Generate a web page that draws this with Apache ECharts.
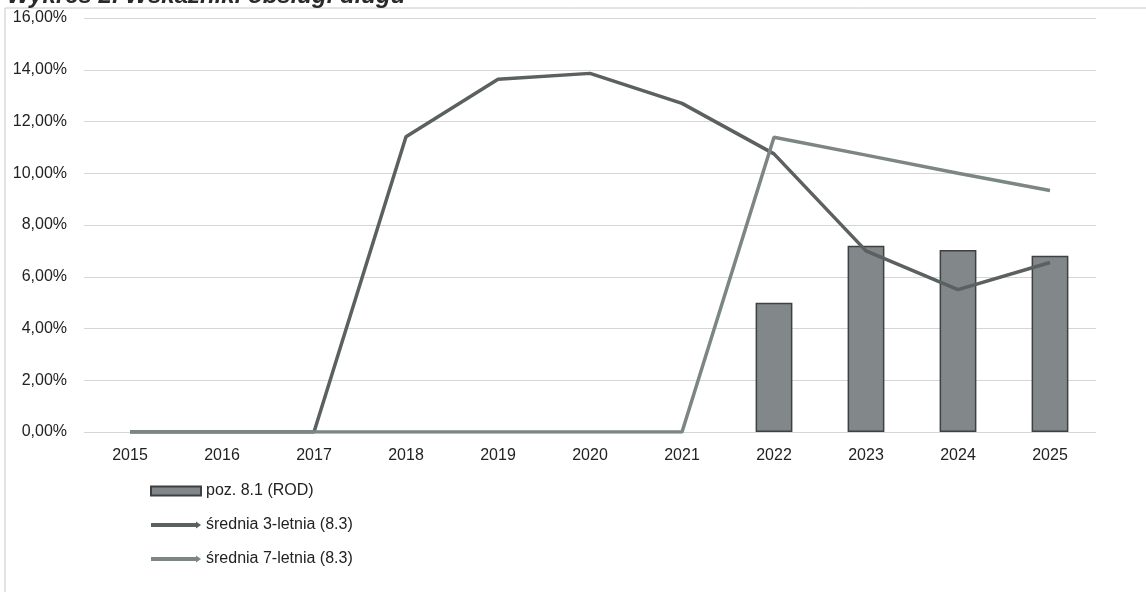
<!DOCTYPE html>
<html>
<head>
<meta charset="utf-8">
<script src="https://cdn.jsdelivr.net/npm/echarts@6/dist/echarts.min.js"></script>
<style>
html,body{margin:0;padding:0;background:#fff;}
#chart{width:1146px;height:592px;}
</style>
</head>
<body>
<div id="chart"></div>
<script>
var categories = ['2015','2016','2017','2018','2019','2020','2021','2022','2023','2024','2025'];
var barRod = [null, null, null, null, null, null, null, 5.0, 7.2, 7.03, 6.81];
var avg3 = [0, 0, 0, 11.41, 13.63, 13.86, 12.70, 10.75, 7.0, 5.5, 6.55];
var avg7 = [0, 0, 0, 0, 0, 0, 0, 11.39, 10.7, 10.0, 9.33];
var seriesNames = ['poz. 8.1 (ROD)', 'średnia 3-letnia (8.3)', 'średnia 7-letnia (8.3)'];
var titleText = 'Wykres 2. Wskaźniki obsługi długu';

var chart = echarts.init(document.getElementById('chart'));
var sans = '"Liberation Sans", Arial, sans-serif';
var arrowIcon = 'path://M0,2.6L45,2.6L45,1L50,4.5L45,8L45,6.4L0,6.4Z';
chart.setOption({
  backgroundColor: '#ffffff',
  animation: false,
  title: {
    text: titleText,
    left: 2,
    top: -21,
    textStyle: {fontFamily: sans, fontSize: 24, fontWeight: 'bold', fontStyle: 'italic', color: '#2a2a2a'}
  },
  graphic: [
    {type: 'line', shape: {x1: 5, y1: 8, x2: 1146, y2: 8}, style: {stroke: '#c8c8c8', lineWidth: 1}, z: -1},
    {type: 'line', shape: {x1: 5, y1: 8, x2: 5, y2: 592}, style: {stroke: '#c8c8c8', lineWidth: 1}, z: -1}
  ],
  grid: {left: 84, right: 50, top: 18, bottom: 160, containLabel: false},
  legend: {
    orient: 'vertical',
    left: 145,
    top: 478,
    itemGap: 18,
    itemWidth: 50,
    itemHeight: 9,
    textStyle: {fontFamily: sans, fontSize: 16, color: '#222'},
    data: [
      {name: seriesNames[0], icon: 'rect'},
      {name: seriesNames[1], icon: arrowIcon},
      {name: seriesNames[2], icon: arrowIcon}
    ]
  },
  xAxis: {
    type: 'category',
    data: categories,
    axisLine: {show: false},
    axisTick: {show: false},
    axisLabel: {fontFamily: sans, fontSize: 16, color: '#222', margin: 16}
  },
  yAxis: {
    type: 'value',
    min: 0,
    max: 16,
    interval: 2,
    axisLine: {show: false},
    axisTick: {show: false},
    axisLabel: {
      fontFamily: sans,
      fontSize: 16,
      color: '#222',
      margin: 17,
      formatter: function (v) { return v.toFixed(2).replace('.', ',') + '%'; }
    },
    splitLine: {lineStyle: {color: '#d6d6d6', width: 1}}
  },
  series: [
    {
      name: seriesNames[0],
      type: 'bar',
      data: barRod,
      barWidth: '40%',
      itemStyle: {color: '#82878a', borderColor: '#3e4142', borderWidth: 1.5}
    },
    {
      name: seriesNames[1],
      type: 'line',
      data: avg3,
      symbol: 'none',
      lineStyle: {color: '#5b6061', width: 3.5},
      itemStyle: {color: '#5b6061'},
      z: 3
    },
    {
      name: seriesNames[2],
      type: 'line',
      data: avg7,
      symbol: 'none',
      lineStyle: {color: '#7c8685', width: 3.5},
      itemStyle: {color: '#7c8685'},
      z: 4
    }
  ]
});
</script>
</body>
</html>
